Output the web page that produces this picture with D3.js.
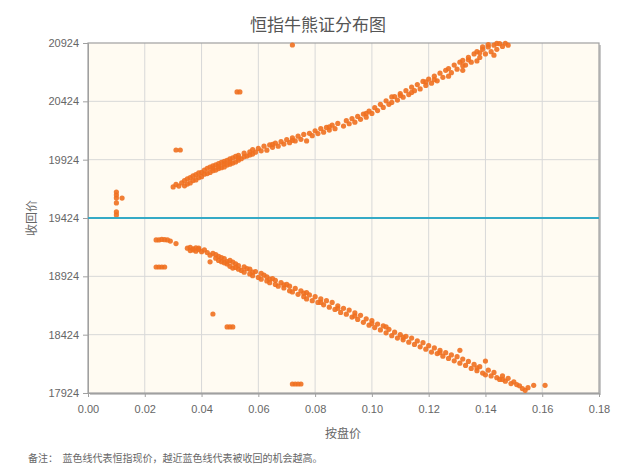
<!DOCTYPE html>
<html>
<head>
<meta charset="utf-8">
<script src="https://cdn.jsdelivr.net/npm/d3@7"></script>
<style>
  body { margin:0; background:#fff; }
  svg { display:block; font-family:"Liberation Sans", Arial, "Noto Sans CJK SC", sans-serif; }
  .cjk { font-family:"Noto Sans CJK SC", sans-serif; }
</style>
</head>
<body>
<svg id="chart" width="628" height="470"></svg>
<script>
const titleText = "恒指牛熊证分布图";
const xTitle = "按盘价";
const yTitle = "收回价";
const footnote = "备注：  蓝色线代表恒指现价，越近蓝色线代表被收回的机会越高。";
const currentPrice = 19424;
const xTicks = [0, 0.02, 0.04, 0.06, 0.08, 0.10, 0.12, 0.14, 0.16, 0.18];
const yTicks = [17924, 18424, 18924, 19424, 19924, 20424, 20924];

// bear CBBCs (above the current index level)
const bearPoints = [
 [0.030,19690],[0.031,19712],[0.032,19698],[0.033,19725],[0.034,19700],[0.034,19745],[0.035,19715],[0.035,19760],
 [0.036,19770],[0.036,19725],[0.037,19745],[0.037,19785],[0.038,19795],[0.038,19750],[0.039,19810],[0.039,19770],
 [0.040,19815],[0.040,19778],[0.041,19800],[0.041,19835],[0.042,19805],[0.042,19850],[0.043,19815],[0.043,19860],
 [0.044,19830],[0.044,19870],[0.045,19835],[0.045,19880],[0.046,19848],[0.046,19890],[0.047,19855],[0.047,19900],
 [0.048,19862],[0.048,19910],[0.049,19878],[0.049,19918],[0.050,19885],[0.050,19930],[0.051,19895],[0.051,19940],
 [0.052,19905],[0.052,19952],[0.053,19920],[0.053,19962],[0.054,19932],[0.055,19948],[0.055,19980],[0.056,19955],
 [0.057,19990],[0.058,19972],[0.058,20010],[0.059,19988],[0.060,20020],[0.061,20000],[0.062,20040],[0.063,20005],
 [0.064,20050],[0.065,20030],[0.066,20065],[0.067,20040],[0.068,20078],[0.069,20058],[0.070,20095],[0.071,20070],
 [0.072,20110],[0.073,20085],[0.074,20125],[0.075,20098],[0.076,20140],[0.077,20085],[0.078,20150],[0.079,20130],
 [0.080,20172],[0.081,20148],[0.082,20190],[0.083,20160],[0.084,20200],[0.085,20178],[0.086,20220],[0.087,20190],
 [0.088,20235],[0.090,20212],[0.091,20258],[0.092,20232],[0.093,20275],[0.094,20245],[0.095,20295],[0.096,20270],
 [0.097,20315],[0.098,20288],[0.099,20340],[0.100,20320],[0.101,20370],[0.102,20345],[0.103,20398],[0.104,20372],
 [0.105,20428],[0.106,20398],[0.107,20462],[0.107,20415],[0.108,20465],[0.109,20435],[0.110,20490],[0.111,20460],
 [0.112,20515],[0.113,20482],[0.114,20500],[0.114,20545],[0.115,20515],[0.116,20568],[0.117,20530],[0.118,20595],
 [0.119,20560],[0.120,20615],[0.121,20580],[0.122,20640],[0.123,20600],[0.124,20665],[0.125,20630],[0.126,20690],
 [0.127,20640],[0.127,20705],[0.128,20670],[0.129,20735],[0.130,20700],[0.131,20760],[0.132,20690],[0.132,20775],
 [0.133,20735],[0.134,20800],[0.135,20760],[0.136,20830],[0.137,20770],[0.137,20850],[0.138,20800],[0.139,20870],
 [0.140,20830],[0.141,20890],[0.142,20850],[0.143,20820],[0.143,20905],[0.144,20870],[0.145,20918],[0.146,20895],
 [0.147,20922],[0.148,20905],[0.139,20890],[0.141,20910],
 [0.044,19850],[0.046,19865],[0.048,19888],[0.050,19905],[0.053,19940],[0.057,19965],[0.065,20055],[0.072,20090],
 [0.085,20205],[0.098,20320],[0.110,20475],[0.122,20610],[0.134,20780],[0.138,20840],[0.144,20920],[0.132,20730],
 [0.119,20590]
];

// bull CBBCs (below the current index level)
const bullPoints = [
 [0.024,19236],[0.025,19236],[0.026,19240],[0.027,19238],[0.028,19236],[0.029,19226],[0.031,19205],
 [0.035,19165],[0.036,19172],[0.036,19145],[0.037,19160],[0.038,19168],[0.038,19140],[0.039,19155],[0.040,19135],
 [0.041,19150],[0.042,19128],[0.043,19048],[0.043,19105],[0.044,19120],[0.045,19080],[0.045,19110],[0.046,19060],
 [0.046,19095],[0.047,19050],[0.047,19085],[0.048,19040],[0.048,19075],[0.049,19030],[0.050,19060],[0.050,19010],
 [0.051,19045],[0.051,18995],[0.052,19030],[0.053,18985],[0.053,19015],[0.054,18975],[0.055,19005],[0.055,18960],
 [0.056,18990],[0.057,18945],[0.057,18985],[0.058,18930],[0.059,18965],[0.060,18915],[0.061,18950],[0.061,18900],
 [0.062,18935],[0.063,18885],[0.063,18920],[0.064,18870],[0.065,18905],[0.066,18855],[0.066,18890],[0.067,18840],
 [0.068,18870],[0.069,18825],[0.070,18855],[0.071,18800],[0.071,18840],[0.072,18790],[0.073,18820],[0.074,18770],
 [0.075,18800],[0.076,18750],[0.077,18785],[0.077,18730],[0.078,18765],[0.079,18715],[0.080,18750],[0.081,18700],
 [0.082,18730],[0.083,18680],[0.084,18715],[0.085,18660],[0.086,18700],[0.087,18640],[0.088,18672],[0.089,18615],
 [0.090,18650],[0.091,18600],[0.092,18635],[0.093,18575],[0.094,18610],[0.095,18555],[0.096,18590],[0.097,18530],
 [0.098,18560],[0.099,18505],[0.100,18545],[0.101,18485],[0.102,18515],[0.103,18465],[0.104,18500],[0.105,18490],
 [0.105,18440],[0.106,18470],[0.107,18415],[0.108,18445],[0.109,18395],[0.110,18425],[0.111,18380],[0.112,18410],
 [0.113,18360],[0.114,18395],[0.115,18340],[0.116,18370],[0.117,18320],[0.118,18355],[0.119,18300],[0.120,18330],
 [0.121,18275],[0.122,18310],[0.123,18262],[0.124,18290],[0.125,18240],[0.126,18270],[0.127,18220],[0.128,18250],
 [0.129,18200],[0.130,18235],[0.131,18290],[0.131,18180],[0.132,18215],[0.133,18160],[0.134,18195],[0.135,18135],
 [0.136,18170],[0.137,18115],[0.138,18150],[0.139,18095],[0.140,18198],[0.140,18080],[0.141,18120],[0.142,18070],
 [0.143,18100],[0.144,18055],[0.145,18040],[0.146,18070],[0.147,18025],[0.148,18050],[0.149,18005],[0.150,18020],
 [0.151,17996],[0.152,17986],[0.153,17962],[0.154,17946],[0.155,17970],[0.157,17990],[0.161,17990],
 [0.037,19150],[0.039,19165],[0.049,19050],[0.052,19000],[0.058,18960],[0.064,18900],[0.069,18850],[0.076,18780],
 [0.082,18700],[0.088,18650],[0.094,18585],[0.100,18520],[0.111,18400],[0.124,18270],[0.137,18140],[0.146,18040]
];

// isolated points away from the two main bands
const strayPoints = [
 [0.072,20907],[0.0525,20505],[0.0535,20505],[0.031,20007],[0.0325,20007],
 [0.010,19647],[0.010,19621],[0.010,19595],[0.012,19595],[0.010,19553],[0.010,19476],[0.010,19450],
 [0.024,19004],[0.025,19004],[0.026,19004],[0.027,19004],
 [0.044,18601],[0.049,18490],[0.050,18490],[0.051,18490],
 [0.072,18001],[0.073,18001],[0.074,18001],[0.075,18001]
];

const svg = d3.select("#chart");
const mLeft = 88, mTop = 43, mRight = 599, mBottom = 393;
const x = d3.scaleLinear().domain([0, 0.18]).range([mLeft, mRight]);
const y = d3.scaleLinear().domain([17924, 20924]).range([mBottom, mTop]);

// title
svg.append("text").attr("class","cjk").attr("x", 318).attr("y", 31)
  .attr("text-anchor","middle").attr("font-size", 17).attr("fill","#555").text(titleText);

// shadow + background
svg.append("rect").attr("x", mLeft+2).attr("y", mTop+2).attr("width", mRight-mLeft).attr("height", mBottom-mTop)
  .attr("fill", "#c8c8c8");
svg.append("rect").attr("x", mLeft).attr("y", mTop).attr("width", mRight-mLeft).attr("height", mBottom-mTop)
  .attr("fill", "#fffbf2");

// grid
svg.append("g").selectAll("line").data(xTicks.slice(1, -1)).join("line")
  .attr("x1", d => x(d)).attr("x2", d => x(d)).attr("y1", mTop).attr("y2", mBottom)
  .attr("stroke", "#d8d8d8").attr("stroke-width", 1);
svg.append("g").selectAll("line").data(yTicks.slice(1, -1)).join("line")
  .attr("x1", mLeft).attr("x2", mRight).attr("y1", d => y(d)).attr("y2", d => y(d))
  .attr("stroke", "#d8d8d8").attr("stroke-width", 1);

// frame
svg.append("rect").attr("x", mLeft).attr("y", mTop).attr("width", mRight-mLeft).attr("height", mBottom-mTop)
  .attr("fill", "none").attr("stroke", "#a0a0a0").attr("stroke-width", 1.2);

// axes
const yAxis = svg.append("g").attr("transform", `translate(${mLeft},0)`)
  .call(d3.axisLeft(y).tickValues(yTicks).tickFormat(d3.format("d")).tickSize(5).tickPadding(4));
const xAxis = svg.append("g").attr("transform", `translate(0,${mBottom})`)
  .call(d3.axisBottom(x).tickValues(xTicks).tickFormat(d3.format(".2f")).tickSize(4).tickPadding(8));
[yAxis, xAxis].forEach(a => {
  a.select(".domain").attr("stroke", "#a0a0a0");
  a.selectAll(".tick line").attr("stroke", "#a0a0a0");
  a.selectAll(".tick text").attr("fill", "#666").attr("font-size", 11);
});

// points
svg.append("clipPath").attr("id","plotclip").append("rect")
  .attr("x", mLeft).attr("y", mTop-3).attr("width", mRight-mLeft).attr("height", mBottom-mTop+3);
const pts = svg.append("g").attr("clip-path","url(#plotclip)");
pts.selectAll("circle").data(bearPoints.concat(bullPoints, strayPoints)).join("circle")
  .attr("cx", d => x(d[0])).attr("cy", d => y(d[1])).attr("r", 2.6)
  .attr("fill", "#f07020").attr("fill-opacity", 0.9);

// current price line
svg.append("line").attr("x1", mLeft).attr("x2", mRight).attr("y1", y(currentPrice)).attr("y2", y(currentPrice))
  .attr("stroke", "#35aac6").attr("stroke-width", 2);

// axis titles
svg.append("text").attr("class","cjk").attr("x", 343).attr("y", 438).attr("text-anchor","middle")
  .attr("font-size", 12).attr("fill","#666").text(xTitle);
svg.append("text").attr("class","cjk").attr("transform", `translate(36,${y(currentPrice)}) rotate(-90)`)
  .attr("text-anchor","middle").attr("font-size", 12).attr("fill","#666").text(yTitle);

// footnote
svg.append("text").attr("class","cjk").attr("x", 28).attr("y", 462).attr("font-size", 10)
  .attr("fill","#666").style("white-space","pre").text(footnote);
</script>
</body>
</html>
